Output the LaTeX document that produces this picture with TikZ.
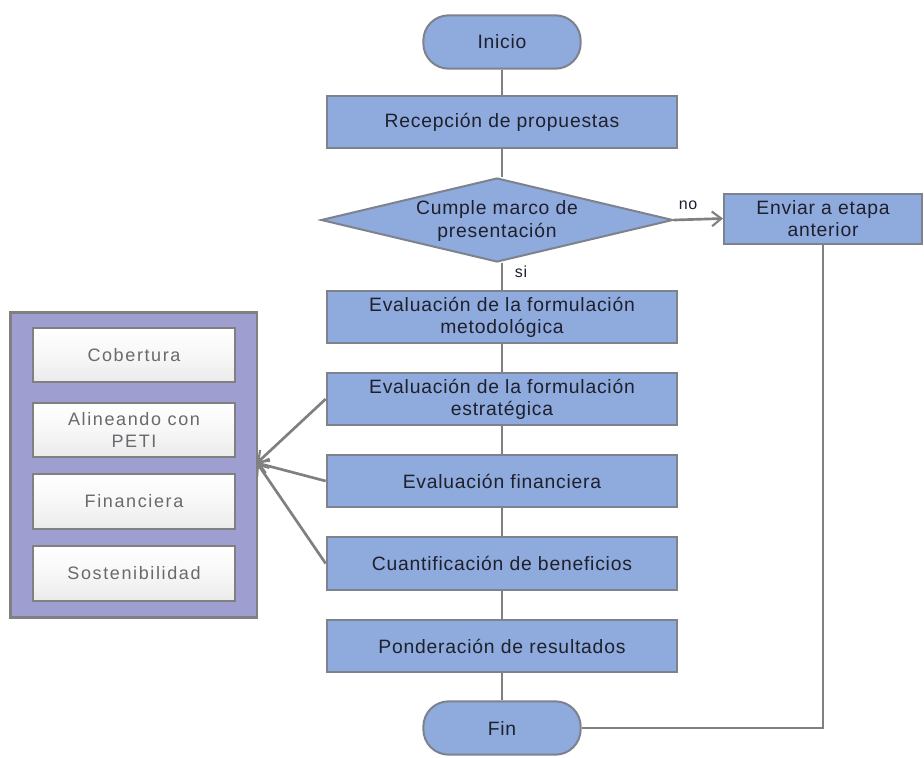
\documentclass[tikz,border=0pt]{standalone}
\usepackage{fontspec}
\setmainfont[LetterSpace=4]{Liberation Sans}
\newfontfamily\widefont[LetterSpace=9]{Liberation Sans}
\usetikzlibrary{shapes.geometric,arrows.meta}
\definecolor{boxblue}{RGB}{143,170,220}
\definecolor{boxedge}{RGB}{125,130,140}
\definecolor{lineg}{RGB}{128,128,128}
\definecolor{panel}{RGB}{158,158,208}
\definecolor{txt}{RGB}{30,32,45}
\definecolor{greytxt}{RGB}{105,105,110}
\tikzset{
  procbox/.style={draw=boxedge, line width=1.5pt, fill=boxblue, minimum width=263pt, minimum height=39.5pt, inner sep=0pt, align=center, text=txt, font=\fontsize{14.5}{16.5}\selectfont},
  pill/.style={draw=boxedge, line width=1.5pt, fill=boxblue, minimum width=118pt, minimum height=40pt, rounded corners=19pt, inner sep=0pt, text=txt, font=\fontsize{14.5}{17}\selectfont},
  decision/.style={diamond, draw=boxedge, line width=1.5pt, fill=boxblue, minimum width=264pt, minimum height=63pt, inner sep=0pt},
  critbox/.style={draw=lineg, line width=1.3pt, top color=white, bottom color=black!8!white, middle color=black!3!white, minimum width=151.5pt, minimum height=41pt, inner sep=0pt, align=center, text=greytxt, font=\widefont\fontsize{13.5}{16}\selectfont},
  flow/.style={draw=lineg, line width=2pt},
  arr/.style={flow, -{Straight Barb[length=7pt, width=11pt, line width=1.6pt]}},
  lbl/.style={font=\fontsize{12}{14}\selectfont, text=txt}
}
\begin{document}
\begin{tikzpicture}[x=0.75pt, y=-0.75pt]
\useasboundingbox[fill=white] (0,0) rectangle (924,757);
% left panel
\node[draw=lineg, line width=2pt, fill=panel, minimum width=185pt, minimum height=229pt] (panel) at (133.5,465) {};
\node[critbox] (c1) at (134,355) {Cobertura};
\node[critbox] (c2) at (134,430) {Alineando con\\PETI};
\node[critbox] (c3) at (134,501.5) {Financiera};
\node[critbox] (c4) at (134,573.5) {Sostenibilidad};
\coordinate (tip) at (257,463);
% main flow
\node[pill] (ini) at (502,42) {Inicio};
\node[procbox] (rec) at (502,122) {Recepción de propuestas};
\node[decision] (dec) at (497,220) {};
\node[align=center, text=txt, font=\fontsize{14.5}{17}\selectfont] (dect) at (497,221) {Cumple marco de\\presentación};
\node[procbox, minimum width=148.5pt, minimum height=37.5pt] (env) at (823,218.5) {Enviar a etapa\\anterior};
\node[procbox] (met) at (502,317) {Evaluación de la formulación\\metodológica};
\node[procbox] (est) at (502,399) {Evaluación de la formulación\\estratégica};
\node[procbox] (fin) at (502,481) {Evaluación financiera};
\node[procbox] (cua) at (502,563.5) {Cuantificación de beneficios};
\node[procbox] (pon) at (502,646) {Ponderación de resultados};
\node[pill] (end) at (502,728) {Fin};
% connectors
\path[flow] (ini) -- (rec);
\path[flow] (rec.south) -- (rec.south |- dec.north);
\path[flow] (met.north |- dec.south) -- (met.north);
\path[flow] (met) -- (est);
\path[flow] (est) -- (fin);
\path[flow] (fin) -- (cua);
\path[flow] (cua) -- (pon);
\path[flow] (pon) -- (end);
\path[arr] (dec.east) -- (env.west);
\node[lbl] (no) at (688,205) {no};
\node[lbl] (si) at (521,272) {si};
\coordinate (corner) at (env.south |- end.east);
\path[flow] (env.south) -- (corner) -- (end.east);
\path[arr] (est.west) -- (tip);
\path[arr] (fin.west) -- (tip);
\path[arr] (cua.west) -- (tip);
\end{tikzpicture}
\end{document}
